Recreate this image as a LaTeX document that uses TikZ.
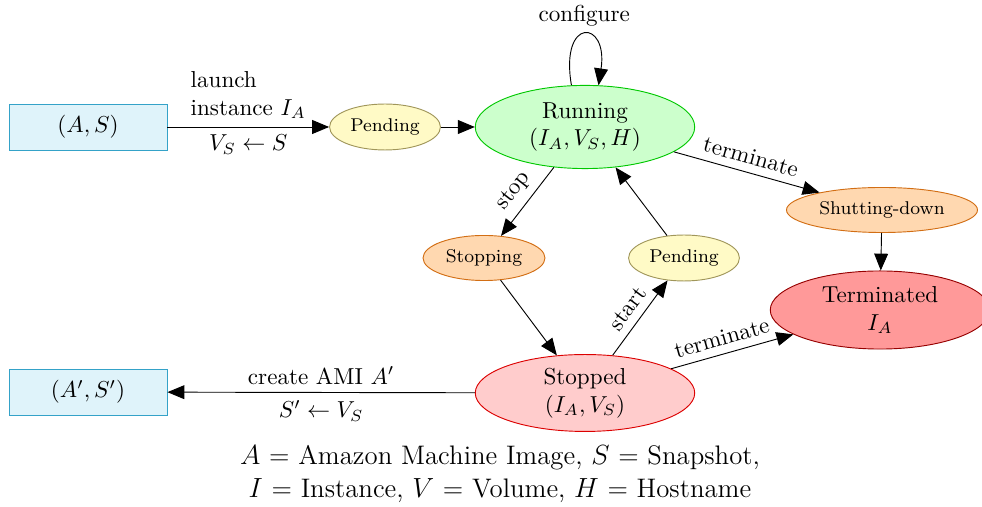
\documentclass[tikz,border=0pt]{standalone}
\usepackage{amsmath}
\usepackage{tikz}
\usetikzlibrary{arrows.meta,shapes.geometric}

\definecolor{boxfill}{RGB}{223,243,250}
\definecolor{boxline}{RGB}{52,162,200}
\definecolor{pendfill}{RGB}{255,250,198}
\definecolor{pendline}{RGB}{160,150,90}
\definecolor{runfill}{RGB}{204,255,204}
\definecolor{runline}{RGB}{0,200,0}
\definecolor{orfill}{RGB}{255,216,176}
\definecolor{orline}{RGB}{210,110,20}
\definecolor{stopfill}{RGB}{255,204,204}
\definecolor{stopline}{RGB}{220,0,0}
\definecolor{termfill}{RGB}{255,153,153}
\definecolor{termline}{RGB}{150,0,0}

\tikzset{
    ami/.style={draw=boxline, fill=boxfill, minimum width=68.4pt, minimum height=19.9pt, inner sep=0pt},
    state/.style={ellipse, inner sep=1pt},
    pend/.style={state, draw=pendline, fill=pendfill, font=\footnotesize, minimum width=48pt, minimum height=19.9pt},
    orng/.style={state, draw=orline, fill=orfill, font=\footnotesize, minimum height=19.5pt},
    trans/.style={-{Triangle[length=7.3pt,width=6pt]}},
}

\begin{document}
\begin{tikzpicture}[x=0.4329pt, y=-0.4329pt]
            \clip (0,0) rectangle (982,507);
            \useasboundingbox (0,0) rectangle (982,507);

            % Images
            \node[ami] (AS) at (88,127) {$(A,S)$};
            \node[ami] (AS2) at (88,392) {$(A',S')$};

            % States
            \node[pend] (pend1) at (385,127) {Pending};
            \node[state, draw=runline, fill=runfill, align=center, minimum width=95pt, minimum height=36pt] (run) at (585,127) {Running\\$(I_A,V_S,H)$};
            \node[orng, minimum width=82.7pt] (shut) at (882,210) {Shutting-down};
            \node[orng, minimum width=52.8pt] (stopping) at (484,258) {Stopping};
            \node[pend] (pend2) at (684,258) {Pending};
            \node[state, draw=termline, fill=termfill, align=center, minimum width=95pt, minimum height=33.8pt] (term) at (880,310) {Terminated\\$I_A$};
            \node[state, draw=stopline, fill=stopfill, align=center, minimum width=95pt, minimum height=33pt] (stopped) at (585,393) {Stopped\\$(I_A,V_S)$};

            % Transitions
            \draw[trans] (AS) -- node[above, align=left] {launch\\instance $I_A$} node[below] {$V_S\leftarrow S$} (pend1);
            \draw[trans] (pend1) -- (run);
            \draw[trans] (run.108) .. controls +(-12,-69) and +(10,-66) .. node[above] {configure} (run.72);
            \draw[trans] (run) -- node[sloped, above] {stop} (stopping);
            \draw[trans] (stopping) -- (stopped);
            \draw[trans] (stopped) -- node[sloped, above] {start} (pend2);
            \draw[trans] (pend2) -- (run);
            \draw[trans] (run) -- node[sloped, above] {terminate} (shut);
            \draw[trans] (shut) -- (term);
            \draw[trans] (stopped) -- node[sloped, above, pos=0.45] {terminate} (term);
            \draw[trans] (stopped) -- node[above] {create AMI $A'$} node[below] {$S'\leftarrow V_S$} (AS2);

            % Legend
            \node[align=center, font=\fontsize{11.6}{13.9}\selectfont] (legend) at (500,474) {$A$ = Amazon Machine Image, $S$ = Snapshot,\\$I$ = Instance, $V$ = Volume, $H$ = Hostname};
\end{tikzpicture}
\end{document}
